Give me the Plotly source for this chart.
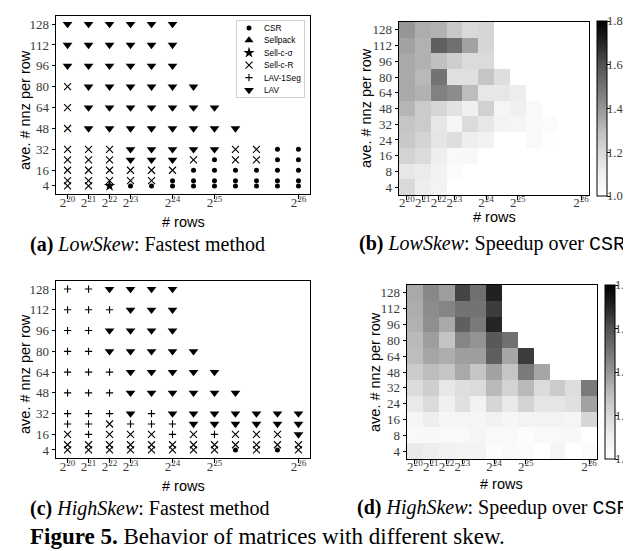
import plotly.graph_objects as go

# ---------------- data ----------------
nnz_per_row = [4, 8, 16, 24, 32, 48, 64, 80, 96, 112, 128]
n_cols = 12
row_tick_idx = [0, 1, 2, 3, 5, 7, 11]
row_tick_text = ["2<sup>20</sup>", "2<sup>21</sup>", "2<sup>22</sup>", "2<sup>23</sup>",
                 "2<sup>24</sup>", "2<sup>25</sup>", "2<sup>26</sup>"]
nnz_tick_vals = [4, 16, 32, 48, 64, 80, 96, 112, 128]
speedup_ticks = [1.0, 1.2, 1.4, 1.6, 1.8]

# fastest method codes per nnz row (bottom -> top), one char per #rows column
# C=CSR, P=Sellpack, S=Sell-c-sigma, R=Sell-c-R, O=LAV-1Seg, L=LAV, .=no data
low_skew_best = [
    "RRSCCCCCCCCC",  # 4
    "RRRRRCCCCCCC",  # 8
    "RRRRRRCCCCCC",  # 16
    "RRRLLLRCRRCC",  # 24
    "RRRLLLLLRRCC",  # 32
    "RLLLLLLLL...",  # 48
    "RLLLLLLL....",  # 64
    "RLLLLLL.....",  # 80
    "LLLLLL......",  # 96
    "LLLLLL......",  # 112
    "LLLLLL......",  # 128
]
high_skew_best = [
    "RRRRRRRRCRCR",  # 4
    "RRRRRRRRRRRR",  # 8
    "RORRRORORRRL",  # 16
    "OOROOOLLLLLL",  # 24
    "OOOLOLLLLLLL",  # 32
    "OOOLLLLLL...",  # 48
    "OOOLLLLL....",  # 64
    "OOLLLLL.....",  # 80
    "OOLLLL......",  # 96
    "OOOLLL......",  # 112
    "OOLLLL......",  # 128
]

# speedup over CSR (rows bottom->top: nnz 4..128), None = no data
N = None
low_skew_speedup = [
    [1.20, 1.11, 1.08, 1.00, 1.00, 1.00, 1.00, 1.00, 1.00, 1.00, 1.00, 1.00],
    [1.14, 1.12, 1.09, 1.02, 1.00, 1.00, 1.00, 1.00, 1.00, 1.00, 1.00, 1.00],
    [1.22, 1.19, 1.11, 1.04, 1.05, 1.00, 1.00, 1.00, 1.00, 1.00, 1.00, 1.00],
    [1.26, 1.22, 1.15, 1.18, 1.11, 1.09, 1.00, 1.00, 1.04, 1.01, 1.00, 1.00],
    [1.27, 1.25, 1.14, 1.06, 1.19, 1.14, 1.08, 1.07, 1.04, 1.03, 1.00, 1.00],
    [1.32, 1.25, 1.21, 1.16, 1.10, 1.23, 1.07, 1.10, 1.04, N, N, N],
    [1.35, 1.33, 1.46, 1.43, 1.30, 1.14, 1.14, 1.11, N, N, N, N],
    [1.35, 1.31, 1.50, 1.17, 1.17, 1.27, 1.18, N, N, N, N, N],
    [1.35, 1.33, 1.29, 1.24, 1.19, 1.19, N, N, N, N, N, N],
    [1.37, 1.33, 1.56, 1.51, 1.37, 1.21, N, N, N, N, N, N],
    [1.40, 1.34, 1.33, 1.26, 1.20, 1.21, N, N, N, N, N, N],
]
high_skew_speedup = [
    [1.13, 1.11, 1.09, 1.08, 1.08, 1.02, 1.04, 1.03, 1.00, 1.07, 1.00, 1.03],
    [1.04, 1.05, 1.04, 1.04, 1.07, 1.04, 1.04, 1.02, 1.04, 1.04, 1.05, 1.00],
    [1.07, 1.11, 1.06, 1.07, 1.07, 1.09, 1.06, 1.08, 1.08, 1.08, 1.07, 1.21],
    [1.13, 1.19, 1.10, 1.17, 1.09, 1.21, 1.13, 1.22, 1.15, 1.15, 1.17, 1.37],
    [1.19, 1.24, 1.14, 1.18, 1.19, 1.31, 1.22, 1.31, 1.19, 1.25, 1.18, 1.48],
    [1.25, 1.30, 1.27, 1.35, 1.27, 1.37, 1.27, 1.48, 1.36, N, N, N],
    [1.30, 1.36, 1.34, 1.38, 1.38, 1.56, 1.36, 1.65, N, N, N, N],
    [1.31, 1.38, 1.28, 1.45, 1.41, 1.58, 1.51, N, N, N, N, N],
    [1.33, 1.42, 1.35, 1.56, 1.48, 1.70, N, N, N, N, N, N],
    [1.34, 1.43, 1.45, 1.50, 1.50, 1.65, N, N, N, N, N, N],
    [1.35, 1.44, 1.38, 1.63, 1.51, 1.71, N, N, N, N, N, N],
]

method_codes = ["C", "P", "S", "R", "O", "L"]
method_names = ["CSR", "Sellpack", "Sell-c-σ", "Sell-c-R", "LAV-1Seg", "LAV"]

# ---------------- styling ----------------
W, H = 631, 551
SERIF = "Liberation Serif"
SANS = "Liberation Sans"
marker_style = {
    "C": dict(symbol="circle", size=5, color="black"),
    "P": dict(symbol="triangle-up", size=8, color="black"),
    "S": dict(symbol="star", size=8.5, color="black"),
    "R": dict(symbol="x-thin", size=7, color="black", line=dict(width=1.1, color="black")),
    "O": dict(symbol="cross-thin", size=5.2, color="black", line=dict(width=1.1, color="black")),
    "L": dict(symbol="triangle-down", size=8.5, color="black"),
}


def px_x(a, b):
    return [a / W, b / W]


def px_y(top, bottom):
    return [1 - bottom / H, 1 - top / H]


fig = go.Figure()

tick_font = dict(family=SERIF, size=13, color="#3a3a3a")
axis_common = dict(showline=True, mirror=True, linecolor="black", linewidth=1,
                   ticks="outside", ticklen=3.5, tickwidth=1, tickcolor="black",
                   showgrid=False, zeroline=False, tickfont=tick_font)

# scatter panels (fastest method)
for grid, xa, ya in [(low_skew_best, "x", "y"), (high_skew_best, "x3", "y3")]:
    for code, name in zip(method_codes, method_names):
        xs, ys = [], []
        for ri, rowstr in enumerate(grid):
            for ci, ch in enumerate(rowstr):
                if ch == code:
                    xs.append(ci)
                    ys.append(nnz_per_row[ri])
        if xs:
            fig.add_trace(go.Scatter(x=xs, y=ys, mode="markers", name=name,
                                     marker=marker_style[code], xaxis=xa, yaxis=ya,
                                     showlegend=False, cliponaxis=False))

# legend of panel (a), drawn in its own small axes (one slot per method)
slots = list(range(len(method_codes)))
for i, code in enumerate(method_codes):
    fig.add_trace(go.Scatter(x=[12], y=[slots[i]], mode="markers", marker=marker_style[code],
                             xaxis="x5", yaxis="y5", showlegend=False, hoverinfo="skip"))

# heatmap panels (speedup)
greys = [[0, "#ffffff"], [0.125, "#f0f0f0"], [0.25, "#d9d9d9"], [0.375, "#bdbdbd"],
         [0.5, "#969696"], [0.625, "#737373"], [0.75, "#525252"], [0.875, "#252525"],
         [1, "#000000"]]
cb_common = dict(thickness=10, thicknessmode="pixels", lenmode="pixels",
                 xanchor="left", yanchor="top", xpad=0, ypad=0,
                 outlinewidth=1, outlinecolor="black",
                 ticks="outside", ticklen=2.5, tickcolor="black",
                 tickvals=speedup_ticks, showticklabels=False)
fig.add_trace(go.Heatmap(z=low_skew_speedup, x=list(range(n_cols)), y=list(range(len(nnz_per_row))),
                         colorscale=greys, zmin=1.0, zmax=1.8, xaxis="x2", yaxis="y2",
                         colorbar=dict(x=589 / W, y=1 - 13 / H, len=175, **cb_common)))
fig.add_trace(go.Heatmap(z=high_skew_speedup, x=list(range(n_cols)), y=list(range(len(nnz_per_row))),
                         colorscale=greys, zmin=1.0, zmax=1.8, xaxis="x4", yaxis="y4",
                         colorbar=dict(x=597 / W, y=1 - 277 / H, len=174, **cb_common)))

# colorbar tick labels: plain value axes placed at the right edge of each colorbar
for xa, ya in [("x6", "y6"), ("x7", "y7")]:
    fig.add_trace(go.Scatter(x=[None], y=[None], xaxis=xa, yaxis=ya, showlegend=False,
                             hoverinfo="skip"))

scatter_x = dict(range=[-0.55, 11.55], tickvals=row_tick_idx, ticktext=row_tick_text,
                 tickangle=0, ticklabelstandoff=-7, **axis_common)
scatter_y = dict(range=[-2.2, 134.2], tickvals=nnz_tick_vals,
                 ticktext=[str(v) for v in nnz_tick_vals], **axis_common)
heat_x = dict(range=[-0.5, 11.5], tickvals=row_tick_idx, ticktext=row_tick_text,
              tickangle=0, ticklabelstandoff=-8, **axis_common)
heat_y = dict(range=[-0.5, 10.5], tickvals=list(range(len(nnz_per_row))),
              ticktext=[str(v) for v in nnz_per_row], **axis_common)
legend_box = dict(showline=True, mirror=True, linecolor="#cfcfcf", linewidth=1,
                  showticklabels=False, ticks="", showgrid=False, zeroline=False)
cb_label_axis = dict(range=[1.0, 1.8], side="right", tickvals=speedup_ticks,
                     ticktext=[f"{v:.1f}" for v in speedup_ticks], ticks="", showline=False,
                     showgrid=False, zeroline=False, ticklabelstandoff=-3,
                     tickfont=dict(family=SERIF, size=12.5, color="#3a3a3a"))
hidden_x = dict(visible=False, range=[0, 1])

fig.update_layout(
    width=W, height=H, margin=dict(l=0, r=0, t=0, b=0, autoexpand=False),
    paper_bgcolor="white", plot_bgcolor="rgba(0,0,0,0)", showlegend=False,
    xaxis=dict(domain=px_x(48, 302), anchor="y", **scatter_x),
    yaxis=dict(domain=px_y(8, 186), anchor="x", **scatter_y),
    xaxis3=dict(domain=px_x(48, 302), anchor="y3", **scatter_x),
    yaxis3=dict(domain=px_y(273, 450), anchor="x3", **scatter_y),
    xaxis2=dict(domain=px_x(391, 581), anchor="y2", **heat_x),
    yaxis2=dict(domain=px_y(14, 187), anchor="x2", **heat_y),
    xaxis4=dict(domain=px_x(399, 589), anchor="y4", **heat_x),
    yaxis4=dict(domain=px_y(277, 451), anchor="x4", **heat_y),
    xaxis5=dict(domain=px_x(229, 296), anchor="y5", range=[0, 67], **legend_box),
    yaxis5=dict(domain=px_y(13, 89), anchor="x5", range=[5.56, -0.56], **legend_box),
    xaxis6=dict(domain=px_x(589, 601), anchor="y6", **hidden_x),
    yaxis6=dict(domain=px_y(13, 188), anchor="x6", **cb_label_axis),
    xaxis7=dict(domain=px_x(597, 609), anchor="y7", **hidden_x),
    yaxis7=dict(domain=px_y(277, 451), anchor="x7", **cb_label_axis),
)

ann = []
for i, name in enumerate(method_names):
    ann.append(dict(x=25, y=slots[i], xref="x5", yref="y5", text=name, showarrow=False,
                    font=dict(family=SANS, size=8.3, color="black"),
                    xanchor="left", yanchor="middle"))

title_font = dict(family=SANS, size=14.5, color="black")
for (xc, yc) in [(17, 102), (17, 366), (358, 100), (367, 364)]:
    ann.append(dict(x=xc / W, y=1 - yc / H, xref="paper", yref="paper", text="ave. # nnz per row",
                    textangle=-90, showarrow=False, font=title_font, xanchor="center", yanchor="middle"))
for (xc, yc) in [(175, 214), (175, 478), (486, 209), (494, 476)]:
    ann.append(dict(x=xc / W, y=1 - yc / H, xref="paper", yref="paper", text="# rows",
                    showarrow=False, font=title_font, xanchor="center", yanchor="middle"))

cap_font = dict(family=SERIF, size=20, color="black")
mono = "<span style='font-family:Liberation Mono'>CSR</span>"
captions = [
    (20, 236, "<b>(a)</b> <i>LowSkew</i>: Fastest method"),
    (349, 236, "<b>(b)</b> <i>LowSkew</i>: Speedup over " + mono),
    (20, 500, "<b>(c)</b> <i>HighSkew</i>: Fastest method"),
    (347, 500, "<b>(d)</b> <i>HighSkew</i>: Speedup over " + mono),
]
for (xl, yc, t) in captions:
    ann.append(dict(x=xl / W, y=1 - yc / H, xref="paper", yref="paper", text=t,
                    showarrow=False, font=cap_font, xanchor="left", yanchor="middle"))
ann.append(dict(x=20 / W, y=1 - 528 / H, xref="paper", yref="paper",
                text="<b>Figure 5.</b> Behavior of matrices with different skew.",
                showarrow=False, font=dict(family=SERIF, size=23, color="black"),
                xanchor="left", yanchor="middle"))
fig.update_layout(annotations=ann)

fig.write_html("out.html")
